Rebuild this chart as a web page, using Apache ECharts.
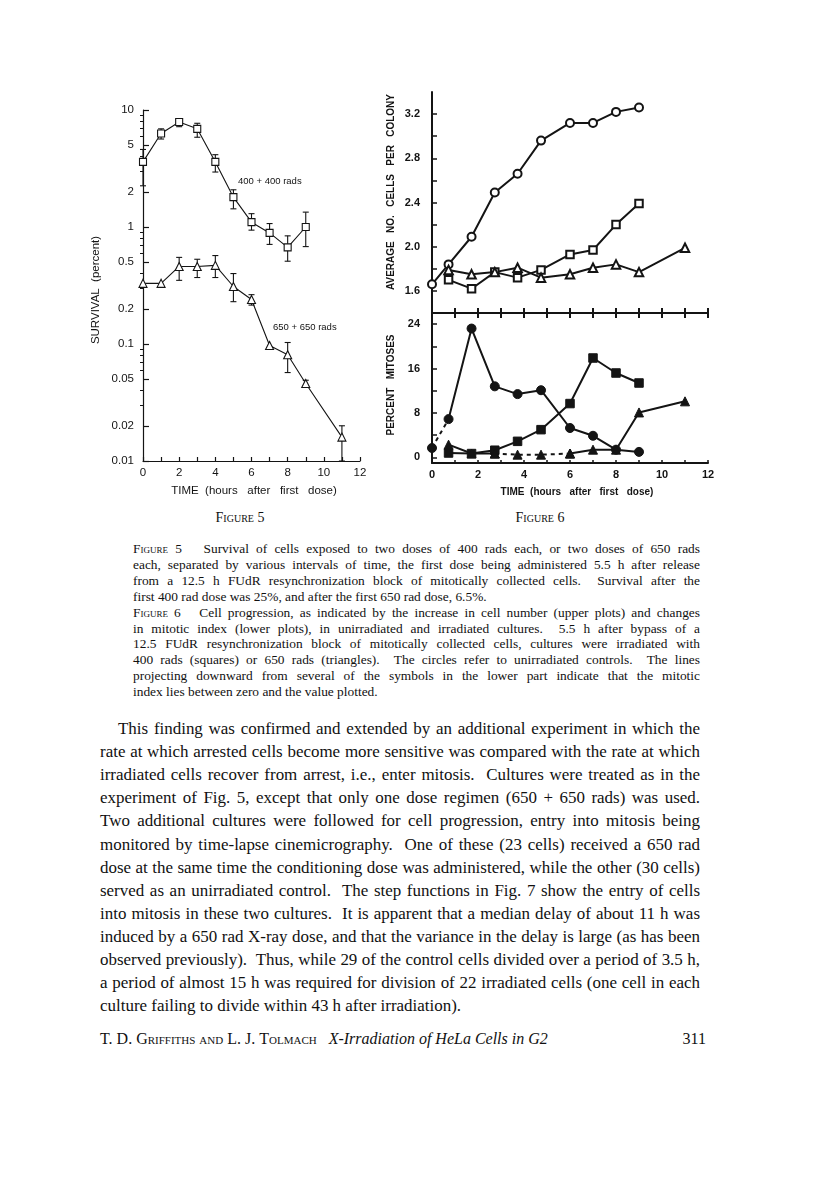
<!DOCTYPE html>
<html>
<head>
<meta charset="utf-8">
<script src="https://cdn.jsdelivr.net/npm/echarts@6/dist/echarts.min.js"></script>
<style>
    body { margin: 0; background: #fff; }
    #page { position: relative; width: 816px; height: 1200px; background: #fff; overflow: hidden; }
    #chart { position: absolute; left: 0; top: 0; width: 816px; height: 505px; }
    .serif { font-family: "Liberation Serif", "DejaVu Serif", serif; color: #111; }
    .line { position: absolute; white-space: nowrap; text-align: justify; text-align-last: justify; }
    .last { text-align-last: left; }
    .sc { font-variant: small-caps; }
    #measure { position: absolute; left: 0; top: 0; visibility: hidden; white-space: nowrap; }
</style>
</head>
<body>
<div id="page">
    <div id="chart"></div>
    <div id="text"></div>
    <span id="measure" class="serif"></span>
</div>
<script>
// Figure 5: survival (percent) against hours after first dose
const hours400 = [0, 1, 2, 3, 4, 5, 6, 7, 8, 9];
const surv400 = [3.6, 6.3, 7.9, 6.9, 3.6, 1.8, 1.1, 0.89, 0.67, 1.0];
const surv400Lo = [2.25, 5.65, 7.2, 5.85, 2.95, 1.43, 0.94, 0.71, 0.51, 0.68];
const surv400Hi = [4.6, 6.9, 8.2, 7.7, 4.15, 2.08, 1.3, 1.07, 0.84, 1.34];

const hours650 = [0, 1, 2, 3, 4, 5, 6, 7, 8, 9, 11];
const surv650 = [0.33, 0.33, 0.46, 0.46, 0.47, 0.31, 0.24, 0.097, 0.081, 0.046, 0.016];
const surv650Lo = [null, null, 0.35, 0.37, 0.37, 0.23, 0.215, null, 0.057, 0.044, 0.01];
const surv650Hi = [null, null, 0.55, 0.53, 0.57, 0.40, 0.264, null, 0.103, 0.049, 0.020];

const survMajor = [0.01, 0.02, 0.05, 0.1, 0.2, 0.5, 1, 2, 5, 10];
const survMinor = [0.03, 0.04, 0.06, 0.07, 0.08, 0.09, 0.3, 0.4, 0.6, 0.7, 0.8, 0.9, 3, 4, 6, 7, 8, 9];

// Figure 6: cells per colony (upper) and percent mitoses (lower)
const timesCtrl = [0, 0.72, 1.72, 2.73, 3.72, 4.74, 6, 7, 8, 9];
const times400 = [0.72, 1.72, 2.73, 3.72, 4.74, 6, 7, 8, 9];
const times650 = [0.72, 1.72, 2.73, 3.72, 4.74, 6, 7, 8, 9, 11];

const cellsCtrl = [1.66, 1.84, 2.09, 2.49, 2.66, 2.96, 3.12, 3.12, 3.22, 3.26];
const cells400 = [1.70, 1.62, 1.77, 1.72, 1.79, 1.93, 1.97, 2.20, 2.39];
const cells650 = [1.79, 1.75, 1.77, 1.81, 1.72, 1.75, 1.81, 1.84, 1.77, 1.99];

const mitCtrl = [1.7, 6.9, 23.2, 12.8, 11.4, 12.1, 5.3, 3.9, 1.4, 1.0];
const mit400 = [0.8, 0.7, 1.3, 2.9, 5.0, 9.7, 17.9, 15.2, 13.4];
const mit650 = [2.3, 0.7, 0.7, 0.5, 0.5, 0.7, 1.4, 1.4, 8.1, 10.1];

const cellsLabels = [1.6, 2.0, 2.4, 2.8, 3.2];
const cellsTicks = [1.6, 1.8, 2.0, 2.2, 2.4, 2.6, 2.8, 3.0, 3.2];
const mitLabels = [0, 8, 16, 24];
const mitTicks = [0, 4, 8, 12, 16, 20, 24];

const INK = '#141414';
const SANS = '"Liberation Sans", Arial, sans-serif';

const zip = (xs, ys) => xs.map((x, i) => [x, ys[i]]);

const errorBarItem = (params, api) => {
    const hi = api.coord([api.value(0), api.value(2)]);
    const lo = api.coord([api.value(0), api.value(1)]);
    const style = { stroke: INK, lineWidth: 1.1 };
    return {
        type: 'group',
        children: [
            { type: 'line', shape: { x1: hi[0], y1: hi[1], x2: lo[0], y2: lo[1] }, style },
            { type: 'line', shape: { x1: hi[0] - 3, y1: hi[1], x2: hi[0] + 3, y2: hi[1] }, style },
            { type: 'line', shape: { x1: lo[0] - 3, y1: lo[1], x2: lo[0] + 3, y2: lo[1] }, style },
        ]
    };
};

const errorBars = (xs, lo, hi) => ({
    type: 'custom',
    xAxisIndex: 0,
    yAxisIndex: 0,
    renderItem: errorBarItem,
    encode: { x: 0, y: [1, 2] },
    data: xs.map((x, i) => [x, lo[i], hi[i]]).filter(d => d[1] != null),
    silent: true,
    z: 1,
});

const openLine = (data, symbol, size, width, xi, yi) => ({
    type: 'line',
    xAxisIndex: xi,
    yAxisIndex: yi,
    data,
    symbol,
    symbolSize: size,
    showAllSymbol: true,
    lineStyle: { color: INK, width },
    itemStyle: { color: '#fff', borderColor: INK, borderWidth: width },
    silent: true,
    z: 3,
});

// style: 'solid' | 'dashed' | 'marks' (symbols only)
const filledLine = (data, symbol, size, style) => ({
    type: 'line',
    xAxisIndex: 3,
    yAxisIndex: 3,
    data,
    symbol: style === 'dashed' ? 'none' : symbol,
    symbolSize: size,
    showAllSymbol: true,
    lineStyle: { color: INK, width: style === 'marks' ? 0 : 2, type: style === 'dashed' ? [4, 4] : 'solid' },
    itemStyle: { color: INK, borderColor: INK, borderWidth: 1 },
    silent: true,
    z: style === 'dashed' ? 2 : 3,
});

const plainAxisLine = (w) => ({ show: true, onZero: false, lineStyle: { color: INK, width: w } });

const chart = echarts.init(document.getElementById('chart'), null, { renderer: 'canvas' });

chart.setOption({
    animation: false,
    backgroundColor: '#fff',
    grid: [
        { left: 143, top: 110, width: 217, height: 351 },
        { left: 432, top: 92, width: 276, height: 221 },
        { left: 432, top: 313, width: 276, height: 150 },
    ],
    xAxis: [
        {
            gridIndex: 0, type: 'value', position: 'bottom', min: 0, max: 12, interval: 1,
            axisLine: plainAxisLine(1.2),
            axisTick: { inside: true, length: 4, lineStyle: { color: INK, width: 1.2 } },
            axisLabel: {
                margin: 6, color: INK, fontFamily: SANS, fontSize: 11.5,
                formatter: v => (v % 2 === 0 ? String(v) : '')
            },
            splitLine: { show: false },
        },
        {
            gridIndex: 1, type: 'value', position: 'bottom', min: 0, max: 12, interval: 1,
            axisLine: plainAxisLine(2),
            axisTick: { inside: true, length: 5, lineStyle: { color: INK, width: 2 } },
            axisLabel: { show: false },
            splitLine: { show: false },
        },
        {
            gridIndex: 1, type: 'value', position: 'bottom', offset: 0, min: 0, max: 12, interval: 1,
            axisLine: { show: false },
            axisTick: { inside: false, length: 5, lineStyle: { color: INK, width: 2 } },
            axisLabel: { show: false },
            splitLine: { show: false },
        },
        {
            gridIndex: 2, type: 'value', position: 'bottom', min: 0, max: 12, interval: 1,
            axisLine: plainAxisLine(2),
            axisTick: { inside: true, length: 3, lineStyle: { color: INK, width: 1.5 } },
            axisLabel: {
                margin: 6, color: INK, fontFamily: SANS, fontSize: 11, fontWeight: 'bold',
                formatter: v => (v % 2 === 0 ? String(v) : '')
            },
            splitLine: { show: false },
        },
    ],
    yAxis: [
        {
            gridIndex: 0, type: 'log', logBase: 10, min: 0.01, max: 10,
            axisLine: plainAxisLine(1.2),
            axisTick: { inside: true, length: 6, customValues: survMajor, lineStyle: { color: INK, width: 1.2 } },
            axisLabel: {
                margin: 9, color: INK, fontFamily: SANS, fontSize: 11.5,
                customValues: survMajor, formatter: v => String(v)
            },
            splitLine: { show: false },
            minorTick: { show: false },
        },
        {
            gridIndex: 0, type: 'log', logBase: 10, min: 0.01, max: 10,
            axisLine: { show: false },
            axisTick: { inside: true, length: 3, customValues: survMinor, lineStyle: { color: INK, width: 1 } },
            axisLabel: { show: false },
            splitLine: { show: false },
        },
        {
            gridIndex: 1, type: 'value', min: 1.4, max: 3.4,
            axisLine: plainAxisLine(2),
            axisTick: { inside: true, length: 5, customValues: cellsTicks, lineStyle: { color: INK, width: 1.5 } },
            axisLabel: {
                margin: 12, color: INK, fontFamily: SANS, fontSize: 11, fontWeight: 'bold',
                customValues: cellsLabels, formatter: v => v.toFixed(1)
            },
            splitLine: { show: false },
        },
        {
            gridIndex: 2, type: 'value', min: -1, max: 26,
            axisLine: plainAxisLine(2),
            axisTick: { inside: true, length: 5, customValues: mitTicks, lineStyle: { color: INK, width: 1.5 } },
            axisLabel: {
                margin: 12, color: INK, fontFamily: SANS, fontSize: 11, fontWeight: 'bold',
                customValues: mitLabels, formatter: v => String(v)
            },
            splitLine: { show: false },
        },
    ],
    graphic: [
        {
            type: 'text', x: 96, y: 290, rotation: Math.PI / 2,
            style: { text: 'SURVIVAL  (percent)', font: '11.5px ' + SANS, fill: INK, align: 'center', verticalAlign: 'middle' }
        },
        {
            type: 'text', x: 254, y: 491,
            style: { text: 'TIME  (hours   after   first   dose)', font: '11.5px ' + SANS, fill: INK, align: 'center', verticalAlign: 'middle' }
        },
        {
            type: 'text', x: 238, y: 181,
            style: { text: '400 + 400 rads', font: '9.5px ' + SANS, fill: INK, align: 'left', verticalAlign: 'middle' }
        },
        {
            type: 'text', x: 273, y: 327,
            style: { text: '650 + 650 rads', font: '9.5px ' + SANS, fill: INK, align: 'left', verticalAlign: 'middle' }
        },
        {
            type: 'text', x: 391, y: 192, rotation: Math.PI / 2,
            style: { text: 'AVERAGE   NO.   CELLS   PER   COLONY', font: 'bold 10px ' + SANS, fill: INK, align: 'center', verticalAlign: 'middle' }
        },
        {
            type: 'text', x: 391, y: 385, rotation: Math.PI / 2,
            style: { text: 'PERCENT   MITOSES', font: 'bold 10px ' + SANS, fill: INK, align: 'center', verticalAlign: 'middle' }
        },
        {
            type: 'text', x: 577, y: 492,
            style: { text: 'TIME  (hours   after   first   dose)', font: 'bold 10px ' + SANS, fill: INK, align: 'center', verticalAlign: 'middle' }
        },
    ],
    series: [
        errorBars(hours400, surv400Lo, surv400Hi),
        errorBars(hours650, surv650Lo, surv650Hi),
        openLine(zip(hours400, surv400), 'rect', 7, 1.1, 0, 0),
        openLine(zip(hours650, surv650), 'triangle', 8, 1.1, 0, 0),

        openLine(zip(timesCtrl, cellsCtrl), 'circle', 8, 2, 1, 2),
        openLine(zip(times400, cells400), 'rect', 7.5, 2, 1, 2),
        openLine(zip(times650, cells650), 'triangle', 8.5, 2, 1, 2),

        // first control segment and the middle 650 stretch are drawn dashed
        filledLine(zip(timesCtrl, mitCtrl).slice(0, 2), 'circle', 9, 'dashed'),
        filledLine(zip(timesCtrl, mitCtrl).slice(0, 1), 'circle', 9, 'marks'),
        filledLine(zip(timesCtrl, mitCtrl).slice(1), 'circle', 9, 'solid'),
        filledLine(zip(times400, mit400), 'rect', 8.5, 'solid'),
        filledLine(zip(times650, mit650).slice(0, 3), 'triangle', 9, 'solid'),
        filledLine(zip(times650, mit650).slice(2, 6), 'triangle', 9, 'dashed'),
        filledLine(zip(times650, mit650).slice(2, 6), 'triangle', 9, 'marks'),
        filledLine(zip(times650, mit650).slice(5), 'triangle', 9, 'solid'),
    ],
});

// page text
const captionLines = [
    '<span class="sc">Figure</span> 5&nbsp;&nbsp; Survival of cells exposed to two doses of 400 rads each, or two doses of 650 rads',
    'each, separated by various intervals of time, the first dose being administered 5.5 h after release',
    'from a 12.5 h FUdR resynchronization block of mitotically collected cells.&nbsp; Survival after the',
    'first 400 rad dose was 25%, and after the first 650 rad dose, 6.5%.',
    '<span class="sc">Figure</span> 6&nbsp;&nbsp; Cell progression, as indicated by the increase in cell number (upper plots) and changes',
    'in mitotic index (lower plots), in unirradiated and irradiated cultures.&nbsp; 5.5 h after bypass of a',
    '12.5 FUdR resynchronization block of mitotically collected cells, cultures were irradiated with',
    '400 rads (squares) or 650 rads (triangles).&nbsp; The circles refer to unirradiated controls.&nbsp; The lines',
    'projecting downward from several of the symbols in the lower part indicate that the mitotic',
    'index lies between zero and the value plotted.',
];
const captionLast = [3, 9];

const bodyLines = [
    'This finding was confirmed and extended by an additional experiment in which the',
    'rate at which arrested cells become more sensitive was compared with the rate at which',
    'irradiated cells recover from arrest, i.e., enter mitosis.&nbsp; Cultures were treated as in the',
    'experiment of Fig. 5, except that only one dose regimen (650 + 650 rads) was used.',
    'Two additional cultures were followed for cell progression, entry into mitosis being',
    'monitored by time-lapse cinemicrography.&nbsp; One of these (23 cells) received a 650 rad',
    'dose at the same time the conditioning dose was administered, while the other (30 cells)',
    'served as an unirradiated control.&nbsp; The step functions in Fig. 7 show the entry of cells',
    'into mitosis in these two cultures.&nbsp; It is apparent that a median delay of about 11 h was',
    'induced by a 650 rad X-ray dose, and that the variance in the delay is large (as has been',
    'observed previously).&nbsp; Thus, while 29 of the control cells divided over a period of 3.5 h,',
    'a period of almost 15 h was required for division of 22 irradiated cells (one cell in each',
    'culture failing to divide within 43 h after irradiation).',
];
const bodyLast = [12];

// one font size per block: the largest that lets every justified line fit
const measure = document.getElementById('measure');
const fitSize = (lines, lastIdx, base, widthOf) => {
    let size = base;
    lines.forEach((t, i) => {
        if (lastIdx.includes(i)) return;
        measure.style.fontSize = base + 'px';
        measure.innerHTML = t;
        const w = measure.getBoundingClientRect().width;
        size = Math.min(size, base * (widthOf(i) - 3) / w);
    });
    return size;
};

const capSize = fitSize(captionLines, captionLast, 13.4, () => 567);
const bodySize = fitSize(bodyLines, bodyLast, 17, i => (i === 0 ? 582 : 600));

let html = '';
html += '<div class="serif sc" style="position:absolute;left:200px;top:510px;width:80px;text-align:center;font-size:14px">Figure 5</div>';
html += '<div class="serif sc" style="position:absolute;left:500px;top:510px;width:80px;text-align:center;font-size:14px">Figure 6</div>';

captionLines.forEach((t, i) => {
    const cls = captionLast.includes(i) ? ' last' : '';
    html += `<div class="serif line${ cls }" style="left:133px;width:567px;top:${ 541 + i * 15.9 }px;font-size:${ capSize }px;line-height:16px">${ t }</div>`;
});
bodyLines.forEach((t, i) => {
    const left = i === 0 ? 118 : 100;
    const cls = bodyLast.includes(i) ? ' last' : '';
    html += `<div class="serif line${ cls }" style="left:${ left }px;width:${ 700 - left }px;top:${ 717 + i * 23.1 }px;font-size:${ bodySize }px;line-height:24px">${ t }</div>`;
});
html += '<div class="serif" style="position:absolute;left:100px;top:1030px;font-size:16px;white-space:nowrap">T. D. <span class="sc">Griffiths and</span> L. J. <span class="sc">Tolmach</span>&nbsp;&nbsp; <i>X-Irradiation of HeLa Cells in G2</i></div>';
html += '<div class="serif" style="position:absolute;left:640px;width:66px;top:1030px;font-size:16px;text-align:right">311</div>';
document.getElementById('text').innerHTML = html;
</script>
</body>
</html>
